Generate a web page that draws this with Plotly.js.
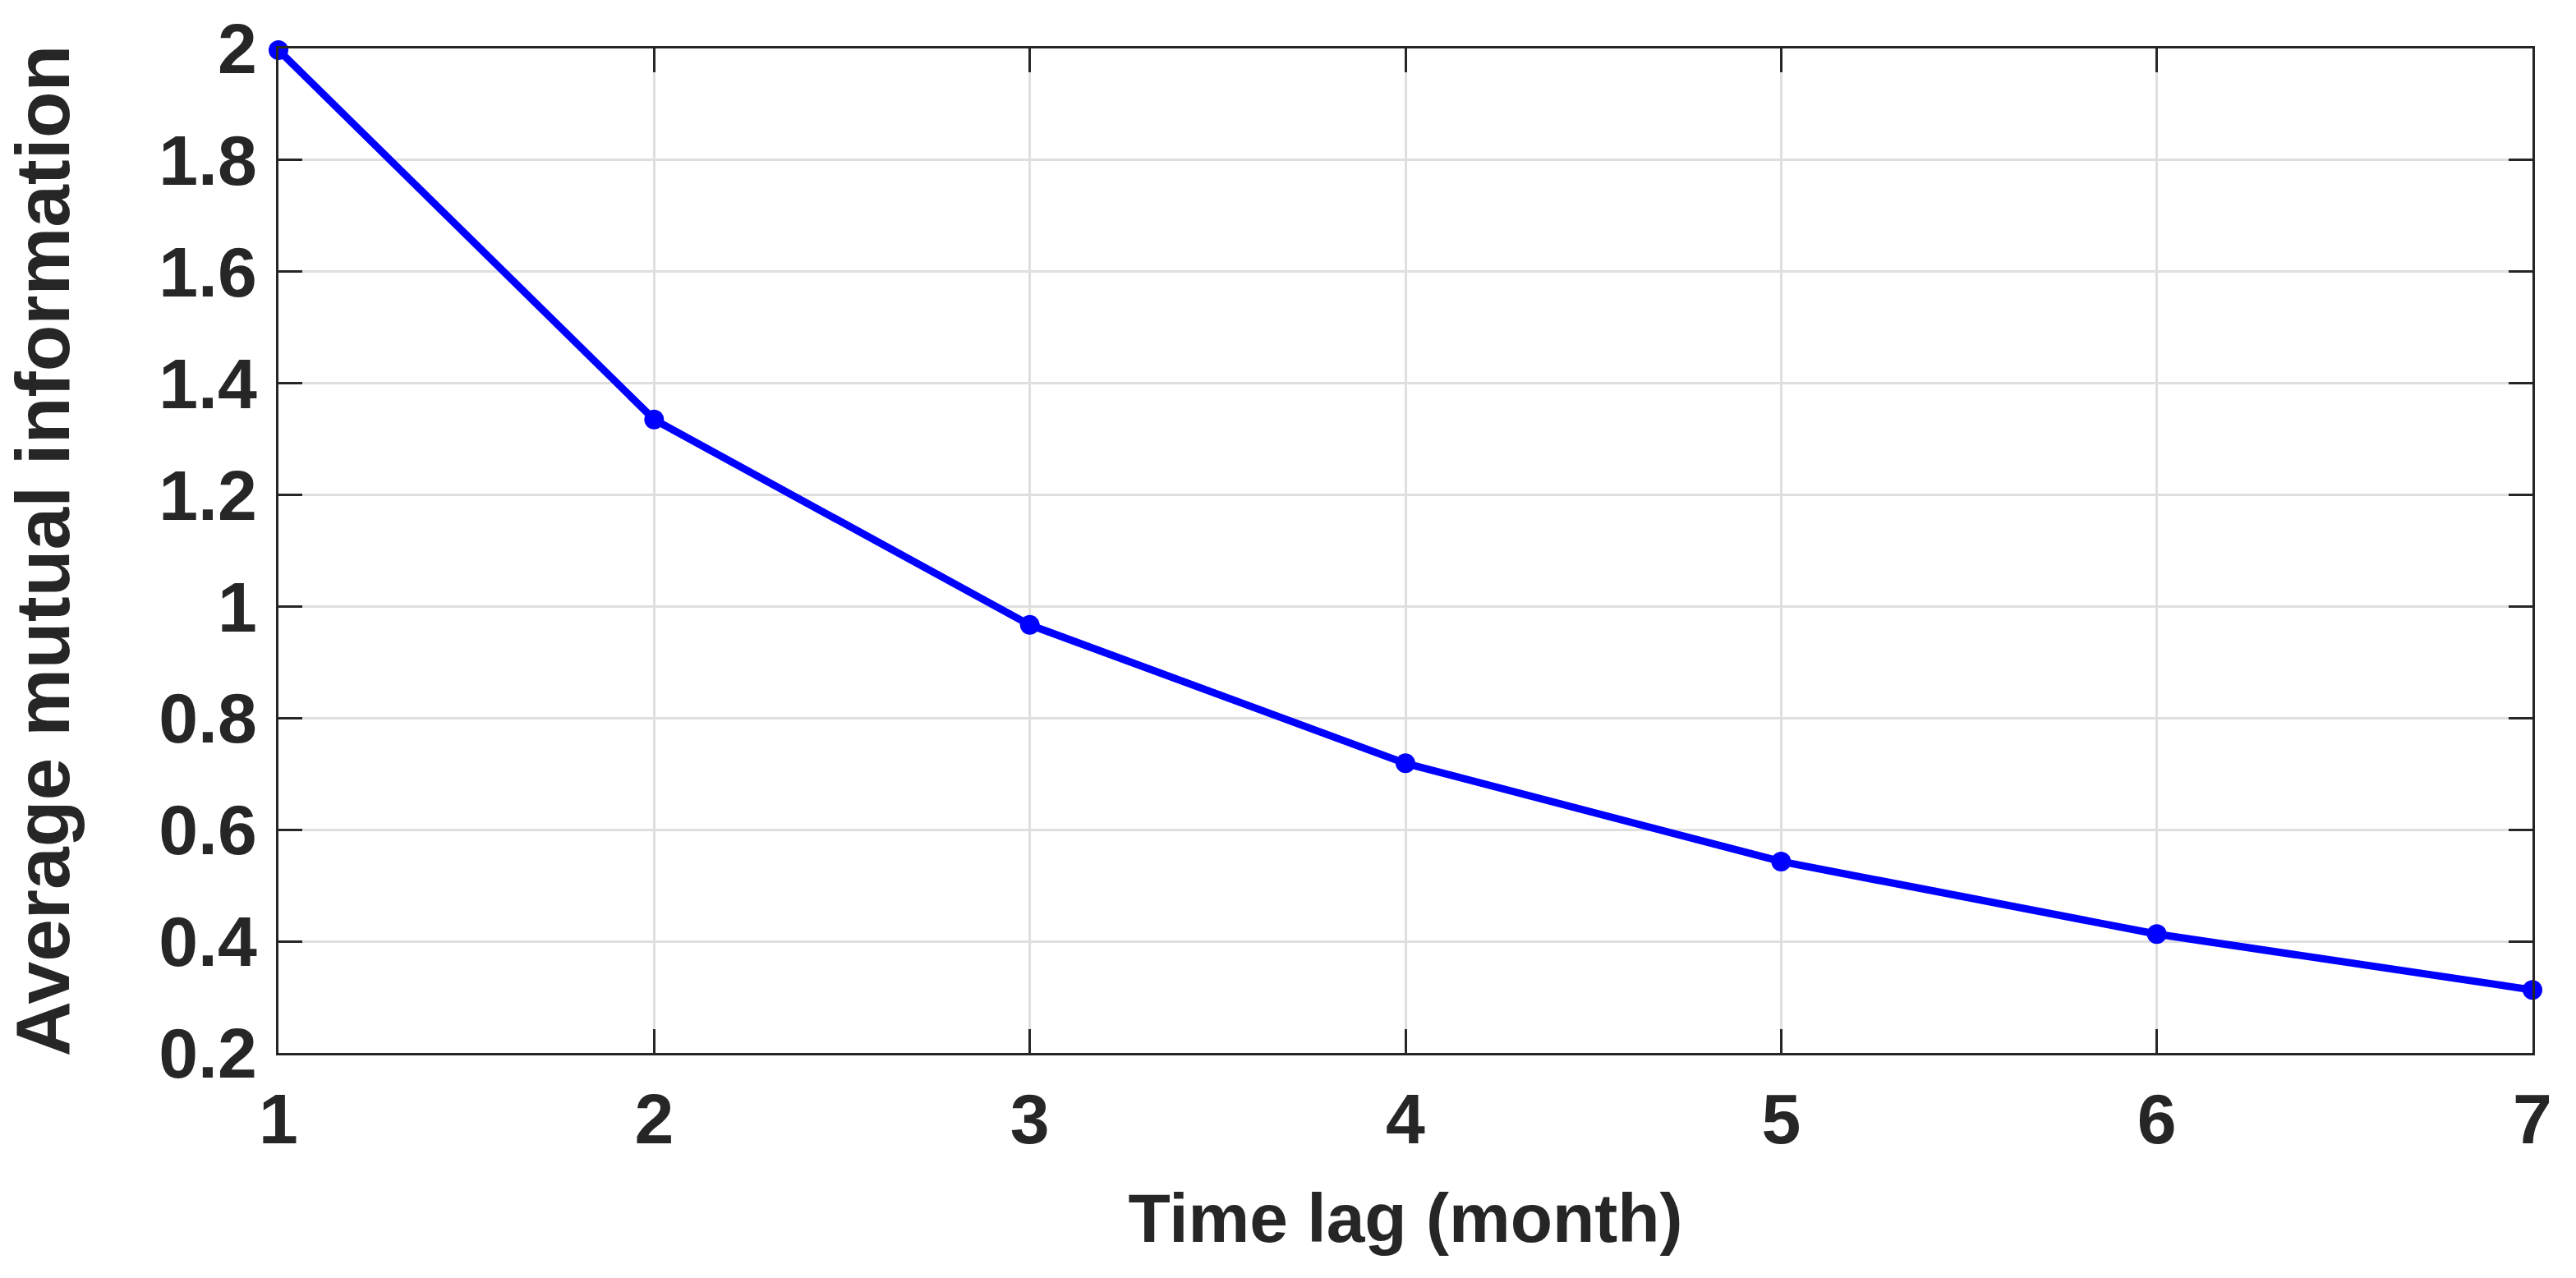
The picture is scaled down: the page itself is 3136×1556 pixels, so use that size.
<!DOCTYPE html>
<html>
<head>
<meta charset="utf-8">
<script src="https://cdn.plot.ly/plotly-3.0.1.min.js"></script>
<style>
html,body{margin:0;padding:0;background:#fff;}
#chart{width:3136px;height:1556px;}
</style>
</head>
<body>
<div id="chart"></div>
<script>
const timeLag = [1, 2, 3, 4, 5, 6, 7];
const ami = [1.997, 1.335, 0.967, 0.719, 0.543, 0.413, 0.313];
const xTicks = [1, 2, 3, 4, 5, 6, 7];
const yTicks = [0.2, 0.4, 0.6, 0.8, 1, 1.2, 1.4, 1.6, 1.8, 2];
const yTickText = ['0.2', '0.4', '0.6', '0.8', '1', '1.2', '1.4', '1.6', '1.8', '2'];

const FONT = '"Liberation Sans", Arial, Helvetica, sans-serif';
const INK = '#262626';

const trace = {
  x: timeLag,
  y: ami,
  type: 'scatter',
  mode: 'lines+markers',
  line: {color: '#0000ff', width: 9},
  marker: {color: '#0000ff', size: 24},
  cliponaxis: false,
  showlegend: false
};

const axisCommon = {
  showline: true,
  linecolor: INK,
  linewidth: 3,
  mirror: 'ticks',
  ticks: 'inside',
  ticklen: 29,
  tickwidth: 3,
  tickcolor: INK,
  showgrid: true,
  gridcolor: '#dfdfdf',
  gridwidth: 3,
  zeroline: false,
  tickfont: {family: FONT, size: 86, color: INK, weight: 'bold'}
};

const layout = {
  width: 3136,
  height: 1556,
  margin: {l: 339, r: 53, t: 59, b: 274},
  paper_bgcolor: '#ffffff',
  plot_bgcolor: '#ffffff',
  font: {family: FONT, color: INK},
  xaxis: Object.assign({}, axisCommon, {
    range: [1, 7],
    tickvals: xTicks,
    ticklabelstandoff: 4,
    title: {text: 'Time lag (month)', font: {family: FONT, size: 84, color: INK, weight: 'bold'}, standoff: 44}
  }),
  yaxis: Object.assign({}, axisCommon, {
    range: [0.2, 2],
    tickvals: yTicks,
    ticktext: yTickText,
    ticklabelstandoff: 6,
    title: {text: 'Average mutual information', font: {family: FONT, size: 93, color: INK, weight: 'bold'}, standoff: 78}
  })
};

Plotly.newPlot('chart', [trace], layout, {displayModeBar: false, staticPlot: true});
</script>
</body>
</html>
